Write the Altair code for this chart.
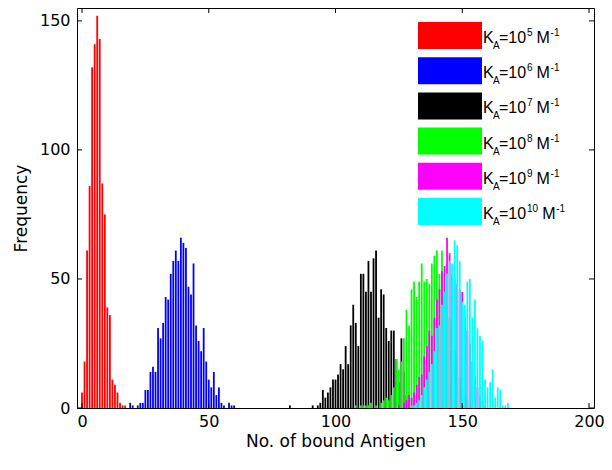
import altair as alt
import pandas as pd

# ---- data (bin centre -> frequency) ----
red_x = list(range(0, 18))
red_c = [6, 18, 61, 86, 132, 141, 152, 143, 87, 75, 39, 36, 11, 9, 6, 2, 1, 1]

blue_x = [19, 20] + list(range(22, 57)) + [58, 59, 60]
blue_c = [2, 1, 1, 2, 2, 7, 7, 14, 16, 14, 31, 27, 33, 43, 42, 52, 57, 61, 57, 66,
          64, 62, 47, 44, 56, 32, 26, 22, 31, 18, 11, 8, 14, 5, 8, 2, 1, 2, 1, 1]

black_x = [82, 91] + list(range(93, 130))
black_c = [1, 1, 1, 2, 7, 4, 6, 8, 11, 11, 13, 17, 15, 24, 17, 32, 40, 33, 24, 52,
           52, 45, 57, 45, 58, 61, 35, 46, 44, 31, 26, 30, 30, 19, 10, 27, 14, 5, 3]

green_x = [108, 110, 111, 112, 113, 114, 116, 118] + list(range(119, 154))
green_c = [1, 1, 1, 1, 1, 2, 1, 2,
           3, 4, 3, 5, 8, 19, 15, 18, 27, 38, 32, 46, 49, 43, 49, 56, 49, 50, 48, 56,
           59, 61, 52, 61, 45, 40, 35, 30, 22, 20, 12, 8, 5, 3, 2]

magenta_x = [125] + list(range(127, 160))
magenta_c = [1, 2, 3, 5, 4, 6, 9, 12, 13, 20, 24, 30, 28, 35, 42, 46, 53, 55, 66, 60,
             52, 50, 48, 46, 45, 35, 30, 25, 18, 12, 8, 5, 3, 1]

cyan_x = list(range(130, 169))
cyan_c = [1, 1, 2, 3, 5, 8, 11, 14, 17, 22, 31, 32, 40, 45, 52, 57, 56, 65, 63, 57,
          41, 40, 49, 50, 35, 42, 31, 28, 26, 11, 8, 10, 15, 4, 8, 7, 1, 1, 2]

series_colors = ["#ff0000", "#0000ff", "#000000", "#00ff00", "#ff00ff", "#00ffff"]
series_exp = ["5", "6", "7", "8", "9", "10"]
series_data = [(red_x, red_c), (blue_x, blue_c), (black_x, black_c),
               (green_x, green_c), (magenta_x, magenta_c), (cyan_x, cyan_c)]

x_ticks = [0, 50, 100, 150, 200]
y_ticks = [0, 50, 100, 150]

W, H = 517, 400
AXFONT = "DejaVu Sans"
LGFONT = "Liberation Sans"

xscale = alt.Scale(domain=[0, 200], nice=False, zero=False)
yscale = alt.Scale(domain=[0, 155], nice=False)

xaxis = alt.Axis(values=x_ticks, ticks=False, domain=False, grid=False,
                 labelFlush=False, labelPadding=5,
                 title="No. of bound Antigen", titleY=33, titleBaseline="middle")
yaxis = alt.Axis(values=y_ticks, ticks=False, domain=False, grid=False,
                 labelPadding=7, title="Frequency",
                 titleX=-56, titleY=H / 2, titleBaseline="middle")

layers = []
for (xs, cs), col in zip(series_data, series_colors):
    df = pd.DataFrame({"x": xs, "count": cs})
    layers.append(alt.Chart(df).mark_bar(color=col, size=1.8, clip=True).encode(
        x=alt.X("x:Q", scale=xscale, axis=xaxis),
        y=alt.Y("count:Q", scale=yscale, stack=None, axis=yaxis)))

# inward tick marks (MATLAB style), on all four sides
xt = pd.DataFrame({"t": x_ticks})
yt = pd.DataFrame({"t": y_ticks})
tk = 5
layers.append(alt.Chart(xt).mark_rule(color="black").encode(
    x=alt.X("t:Q", scale=xscale, axis=xaxis), y=alt.value(H), y2=alt.value(H - tk)))
layers.append(alt.Chart(xt).mark_rule(color="black").encode(
    x=alt.X("t:Q", scale=xscale, axis=xaxis), y=alt.value(0), y2=alt.value(tk)))
layers.append(alt.Chart(yt).mark_rule(color="black").encode(
    y=alt.Y("t:Q", scale=yscale, axis=yaxis), x=alt.value(0), x2=alt.value(tk)))
layers.append(alt.Chart(yt).mark_rule(color="black").encode(
    y=alt.Y("t:Q", scale=yscale, axis=yaxis), x=alt.value(W), x2=alt.value(W - tk)))

# legend (swatch + K_A=10^n M^-1 with sub/superscripts)
one = pd.DataFrame({"a": [0]})
for i, (col, ex) in enumerate(zip(series_colors, series_exp)):
    y0 = 14 + i * 35.2
    layers.append(alt.Chart(one).mark_rect(color=col).encode(
        x=alt.value(341), x2=alt.value(405), y=alt.value(y0), y2=alt.value(y0 + 27)))
    sup_w = 5.6 * len(ex)
    pieces = [
        ("K", 406, y0 + 21, 16),
        ("A", 416, y0 + 27, 10),
        ("=10", 422, y0 + 21, 16),
        (ex, 450, y0 + 14, 10),
        ("M", 454 + sup_w, y0 + 21, 16),
        ("-1", 468 + sup_w, y0 + 14, 10),
    ]
    for txt, px, py, fs in pieces:
        layers.append(alt.Chart(one).mark_text(
            align="left", baseline="alphabetic", font=LGFONT, fontSize=fs, color="black"
        ).encode(x=alt.value(px), y=alt.value(py), text=alt.value(txt)))

chart = alt.layer(*layers).properties(
    width=W, height=H,
    autosize=alt.AutoSizeParams(type="none"),
    padding={"left": 69, "top": 0, "right": 10, "bottom": 54},
    background="white",
).configure_view(stroke="black", strokeWidth=1).configure_axis(
    labelFont=AXFONT, labelFontSize=16, labelColor="black",
    titleFont=AXFONT, titleFontSize=17, titleFontWeight="normal", titleColor="black",
)

chart.save("out.html", embed_options={"renderer": "svg", "actions": False})
